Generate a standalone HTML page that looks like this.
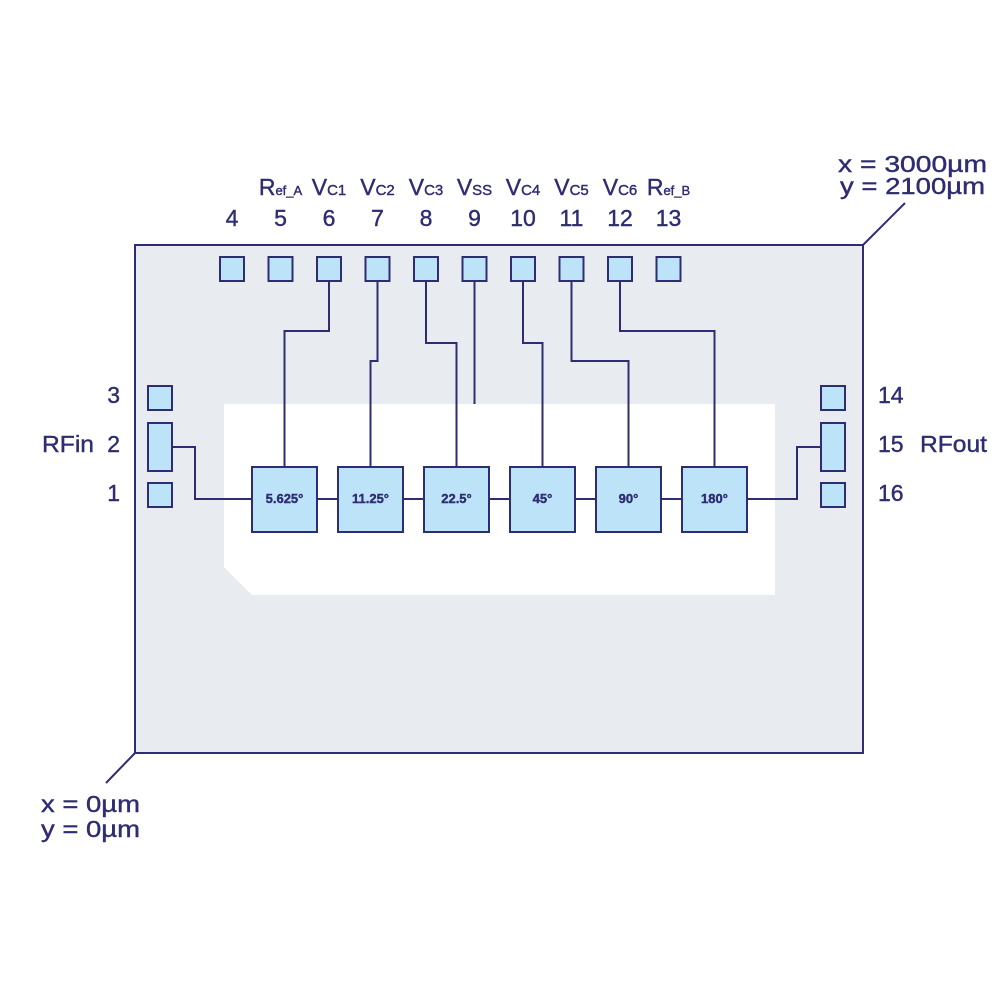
<!DOCTYPE html>
<html><head><meta charset="utf-8"><style>
html,body{margin:0;padding:0;background:#fff;}
svg{display:block;}
text{font-family:"Liberation Sans",sans-serif;fill:#2e2c72;stroke:#2e2c72;stroke-width:0.4;}
</style></head><body>
<svg width="999" height="1000" viewBox="0 0 999 1000" xmlns="http://www.w3.org/2000/svg">
<g stroke="#2e2c72" stroke-width="2" fill="none">
<rect x="135" y="245" width="728" height="508" fill="#e8ecf0"/>
<line x1="863" y1="245" x2="905" y2="203"/>
<line x1="135" y1="753" x2="106" y2="783"/>
</g>
<polygon points="224,404 775,404 775,595 252,595 224,567" fill="#fff"/>
<g stroke="#2e2c72" stroke-width="2" fill="none">
<polyline points="329,281 329,331 284.5,331 284.5,467"/>
<polyline points="377.5,281 377.5,361 370.5,361 370.5,467"/>
<polyline points="426,281 426,343 456.5,343 456.5,467"/>
<polyline points="474.5,281 474.5,404"/>
<polyline points="523,281 523,343 542.5,343 542.5,467"/>
<polyline points="571.5,281 571.5,361 628.5,361 628.5,467"/>
<polyline points="620,281 620,331 714.5,331 714.5,467"/>
<polyline points="172,447 195,447 195,499 252,499"/>
<polyline points="747,499 797,499 797,447 820,447"/>
<line x1="317" y1="499" x2="338" y2="499"/>
<line x1="403" y1="499" x2="424" y2="499"/>
<line x1="489" y1="499" x2="510" y2="499"/>
<line x1="575" y1="499" x2="596" y2="499"/>
<line x1="661" y1="499" x2="682" y2="499"/>
</g>
<g stroke="#2e2c72" stroke-width="2" fill="#bde3f8">
<rect x="220" y="257" width="24" height="24"/>
<rect x="268.5" y="257" width="24" height="24"/>
<rect x="317" y="257" width="24" height="24"/>
<rect x="365.5" y="257" width="24" height="24"/>
<rect x="414" y="257" width="24" height="24"/>
<rect x="462.5" y="257" width="24" height="24"/>
<rect x="511" y="257" width="24" height="24"/>
<rect x="559.5" y="257" width="24" height="24"/>
<rect x="608" y="257" width="24" height="24"/>
<rect x="656.5" y="257" width="24" height="24"/>
<rect x="148" y="386" width="24" height="24"/>
<rect x="148" y="423" width="24" height="48"/>
<rect x="148" y="483" width="24" height="24"/>
<rect x="821" y="386" width="24" height="24"/>
<rect x="821" y="423" width="24" height="48"/>
<rect x="821" y="483" width="24" height="24"/>
<rect x="252" y="467" width="65" height="65"/>
<rect x="338" y="467" width="65" height="65"/>
<rect x="424" y="467" width="65" height="65"/>
<rect x="510" y="467" width="65" height="65"/>
<rect x="596" y="467" width="65" height="65"/>
<rect x="682" y="467" width="65" height="65"/>
</g>
<g font-size="13" font-weight="bold" text-anchor="middle" style="stroke-width:0">
<text x="284.5" y="503">5.625°</text>
<text x="370.5" y="503">11.25°</text>
<text x="456.5" y="503">22.5°</text>
<text x="542.5" y="503">45°</text>
<text x="628.5" y="503">90°</text>
<text x="714.5" y="503">180°</text>
</g>
<g font-size="23" text-anchor="middle">
<text x="232" y="226">4</text>
<text x="280.5" y="226">5</text>
<text x="329" y="226">6</text>
<text x="377.5" y="226">7</text>
<text x="426" y="226">8</text>
<text x="474.5" y="226">9</text>
<text x="523" y="226">10</text>
<text x="571.5" y="226">11</text>
<text x="620" y="226">12</text>
<text x="668.5" y="226">13</text>
</g>
<g font-size="23" text-anchor="middle">
<text x="280.5" y="195">R<tspan font-size="13">ef_A</tspan></text>
<text x="329" y="195">V<tspan font-size="15">C1</tspan></text>
<text x="377.5" y="195">V<tspan font-size="15">C2</tspan></text>
<text x="426" y="195">V<tspan font-size="15">C3</tspan></text>
<text x="474.5" y="195">V<tspan font-size="15">SS</tspan></text>
<text x="523" y="195">V<tspan font-size="15">C4</tspan></text>
<text x="571.5" y="195">V<tspan font-size="15">C5</tspan></text>
<text x="620" y="195">V<tspan font-size="15">C6</tspan></text>
<text x="668.5" y="195">R<tspan font-size="13">ef_B</tspan></text>
</g>
<g font-size="23" text-anchor="end">
<text x="120" y="403">3</text>
<text x="120" y="452">2</text>
<text x="120" y="501">1</text>
</g>
<g font-size="23">
<text x="42" y="452" textLength="52" lengthAdjust="spacingAndGlyphs">RFin</text>
<text x="878" y="403">14</text>
<text x="878" y="452">15</text>
<text x="920" y="452" textLength="67" lengthAdjust="spacingAndGlyphs">RFout</text>
<text x="878" y="501">16</text>
<text x="838" y="172" textLength="149" lengthAdjust="spacingAndGlyphs">x = 3000µm</text>
<text x="840" y="194" textLength="145" lengthAdjust="spacingAndGlyphs">y = 2100µm</text>
<text x="41" y="812" textLength="99" lengthAdjust="spacingAndGlyphs">x = 0µm</text>
<text x="41" y="837" textLength="99" lengthAdjust="spacingAndGlyphs">y = 0µm</text>
</g>
</svg>
</body></html>
